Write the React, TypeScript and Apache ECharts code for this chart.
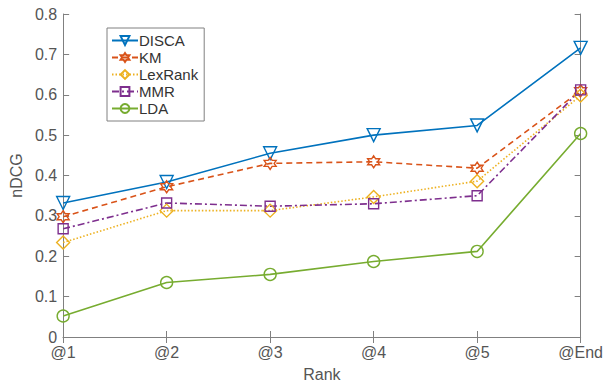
import React, { useEffect, useRef } from "react";
import * as echarts from "echarts";

const categories = ["@1", "@2", "@3", "@4", "@5", "@End"];
const disca = [0.332, 0.384, 0.455, 0.5, 0.524, 0.716];
const km = [0.298, 0.372, 0.43, 0.434, 0.418, 0.61];
const lexRank = [0.234, 0.313, 0.313, 0.347, 0.386, 0.598];
const mmr = [0.268, 0.332, 0.324, 0.33, 0.35, 0.612];
const lda = [0.052, 0.135, 0.155, 0.187, 0.212, 0.504];

const HEX =
  "path://M0,-10 L2.887,-5 L8.66,-5 L5.774,0 L8.66,5 L2.887,5 L0,10 L-2.887,5 L-8.66,5 L-5.774,0 L-8.66,-5 L-2.887,-5 Z";
const TRI_DOWN = "path://M-10,-8 L10,-8 L0,9 Z";

const FONT = "'Liberation Sans', Arial, Helvetica, sans-serif";
const AXIS_COLOR = "#808080";
const TEXT_COLOR = "#555555";

function mkSeries(
  name: string,
  data: number[],
  color: string,
  symbol: string,
  size: number,
  lineType: any
) {
  return {
    name,
    type: "line",
    data,
    symbol,
    symbolSize: size,
    color,
    lineStyle: { color, width: 1.6, type: lineType },
    itemStyle: { color: "rgba(255,255,255,0)", borderColor: color, borderWidth: 1.4 },
    emphasis: { disabled: true },
  };
}

export default function App() {
  const ref = useRef<HTMLDivElement>(null);
  useEffect(() => {
    if (!ref.current) return;
    const chart = echarts.init(ref.current, undefined, { renderer: "svg" });
    const axisLine = { show: true, lineStyle: { color: AXIS_COLOR, width: 1 } };
    const axisTick = { show: true, inside: true, length: 6, lineStyle: { color: AXIS_COLOR } };
    chart.setOption({
      animation: false,
      backgroundColor: "#ffffff",
      textStyle: { fontFamily: FONT },
      grid: { left: 58, right: 25, top: 14, bottom: 48, containLabel: false },
      legend: {
        orient: "vertical",
        left: 107,
        top: 28,
        itemWidth: 26,
        itemHeight: 11,
        itemGap: 2,
        padding: [5, 6, 5, 4],
        borderColor: AXIS_COLOR,
        borderWidth: 1,
        backgroundColor: "#ffffff",
        textStyle: { fontSize: 15, color: "#333", fontFamily: FONT, padding: [0, 0, 0, -4] },
        data: ["DISCA", "KM", "LexRank", "MMR", "LDA"],
      },
      xAxis: [
        {
          type: "category",
          data: categories,
          boundaryGap: false,
          axisLine,
          axisTick: { ...axisTick, alignWithLabel: true },
          axisLabel: { color: TEXT_COLOR, fontSize: 16, margin: 7, fontFamily: FONT },
          name: "Rank",
          nameLocation: "middle",
          nameGap: 29,
          nameTextStyle: { color: TEXT_COLOR, fontSize: 16, fontFamily: FONT },
          splitLine: { show: false },
        },
        {
          type: "category",
          data: categories,
          boundaryGap: false,
          position: "top",
          axisLine,
          axisTick,
          axisLabel: { show: false },
          splitLine: { show: false },
        },
      ],
      yAxis: [
        {
          type: "value",
          min: 0,
          max: 0.8,
          interval: 0.1,
          axisLine,
          axisTick,
          axisLabel: {
            color: TEXT_COLOR,
            fontSize: 16,
            margin: 6,
            fontFamily: FONT,
            formatter: (v: number) => (v === 0 ? "0" : v.toFixed(1)),
          },
          splitLine: { show: false },
          name: "nDCG",
          nameLocation: "middle",
          nameGap: 32,
          nameTextStyle: { color: TEXT_COLOR, fontSize: 16, fontFamily: FONT },
        },
        {
          type: "value",
          min: 0,
          max: 0.8,
          interval: 0.1,
          position: "right",
          axisLine,
          axisTick,
          axisLabel: { show: false },
          splitLine: { show: false },
        },
      ],
      series: [
        mkSeries("DISCA", disca, "#0072BD", TRI_DOWN, 13, "solid"),
        mkSeries("KM", km, "#D95319", HEX, 12, [6, 4]),
        mkSeries("LexRank", lexRank, "#EDB120", "diamond", 13, [1.5, 2]),
        mkSeries("MMR", mmr, "#7E2F8E", "rect", 10, [7, 3, 2, 3]),
        mkSeries("LDA", lda, "#77AC30", "circle", 12, "solid"),
      ],
    });
    return () => chart.dispose();
  }, []);
  return <div ref={ref} style={{ width: 606, height: 387, position: "absolute", left: 0, top: 0 }} />;
}
